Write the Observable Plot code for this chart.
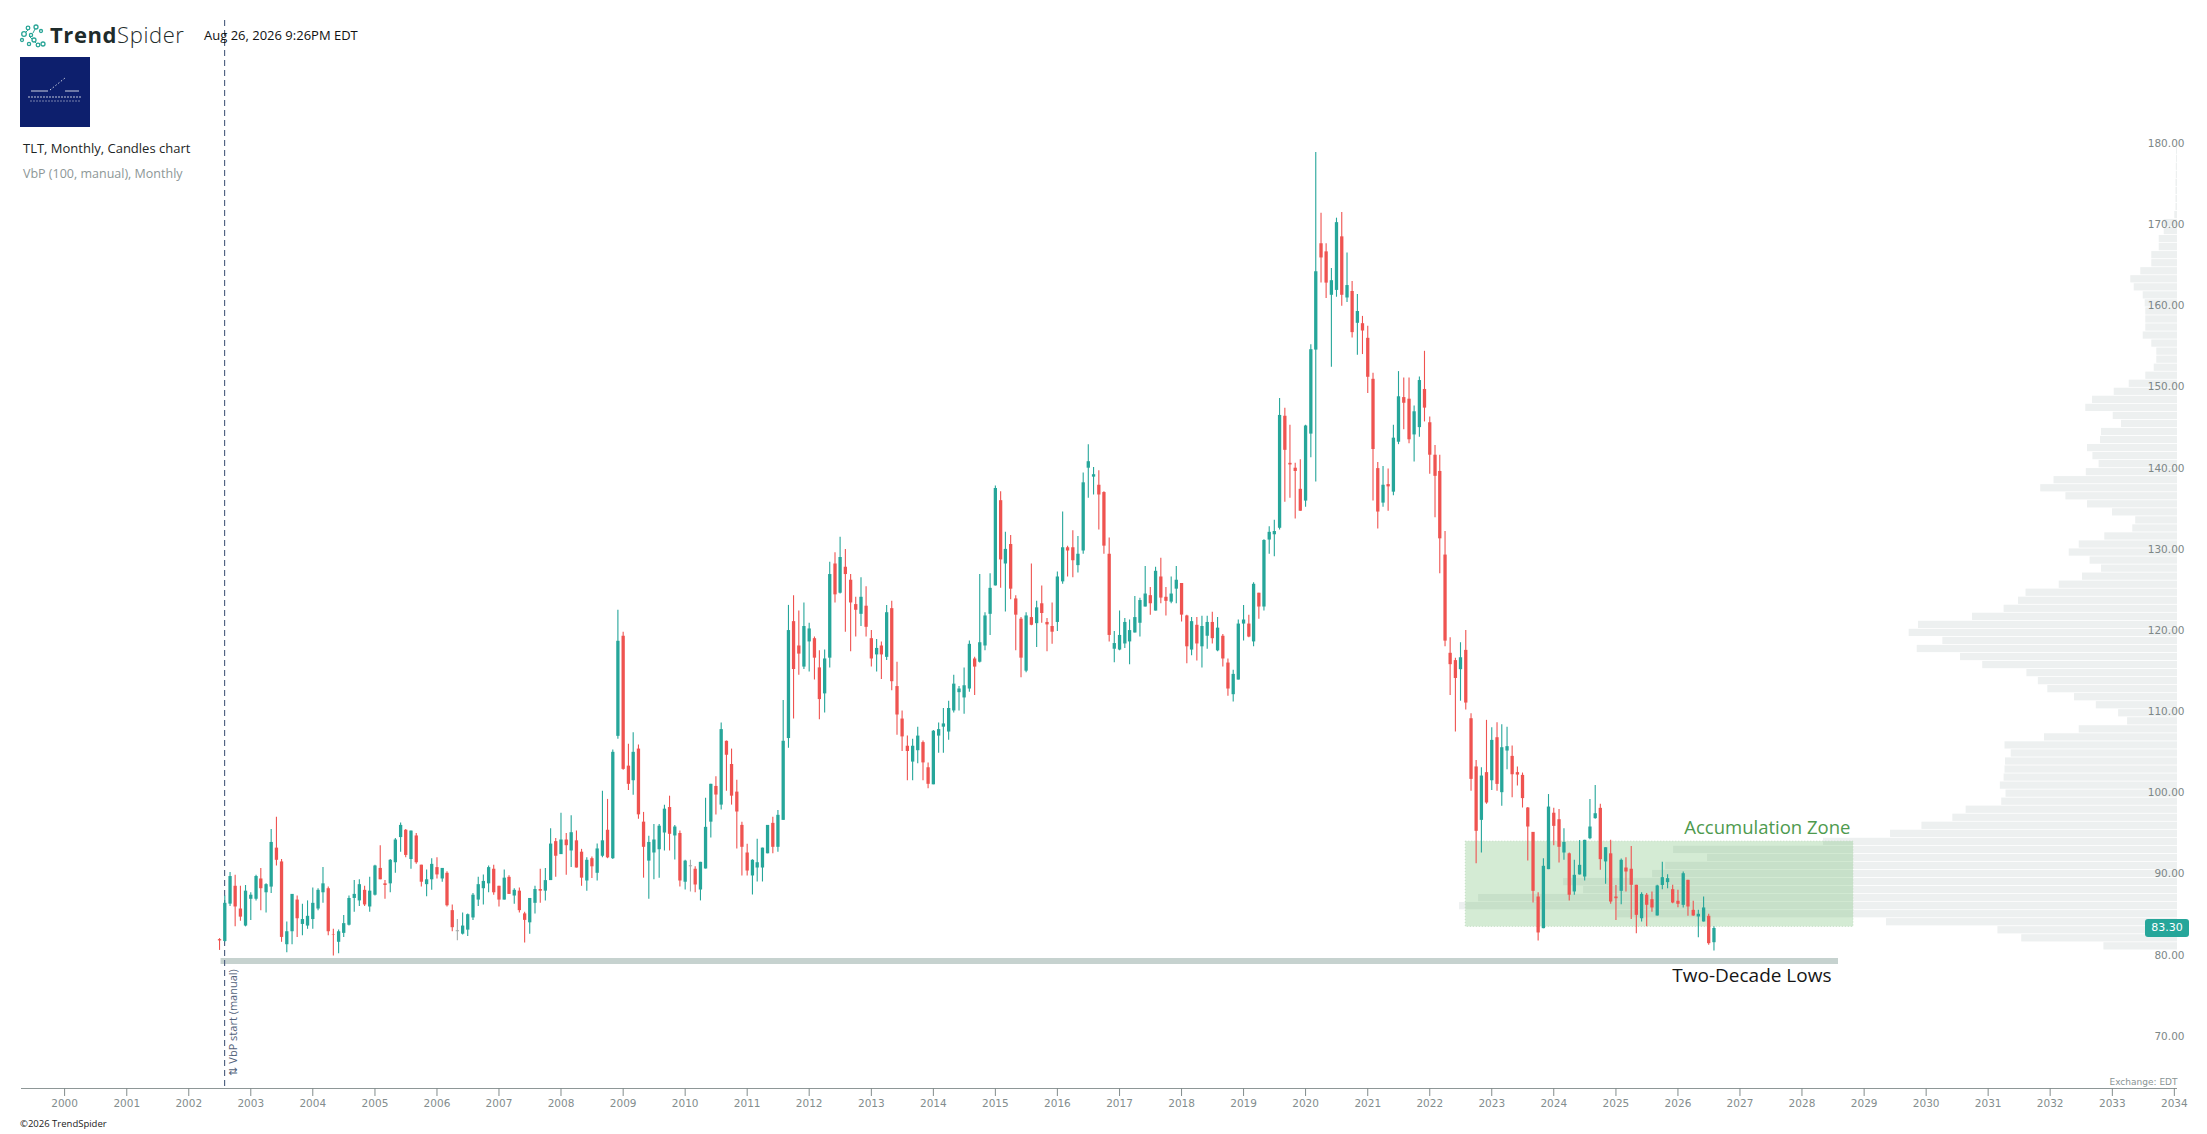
<!DOCTYPE html>
<html>
<head>
<meta charset="utf-8">
<script src="https://cdn.jsdelivr.net/npm/d3@7"></script>
<script src="https://cdn.jsdelivr.net/npm/@observablehq/plot@0.6"></script>
<style>
html, body { margin: 0; padding: 0; background: #ffffff; }
#wrap { position: relative; width: 2207px; height: 1134px; overflow: hidden; background: #ffffff; }
#wrap > svg.plot { position: absolute; left: 0; top: 0; }
#overlay { position: absolute; left: 0; top: 0; pointer-events: none; }
#price { position: absolute; background: #26a69a; color: #ffffff; border-radius: 3px;
  font-family: "DejaVu Sans", sans-serif; font-size: 11px; line-height: 18px; height: 18px;
  width: 44px; text-align: center; }
</style>
</head>
<body>
<div id="wrap"></div>
<script>
// ---------------- DATA ----------------
const firstMonth = { year: 2002, month: 7 };   // TLT monthly candles start July 2002
const opens = [
  81.93, 81.7, 86.3, 88.5, 85.7, 83.6,
  86.9, 86.9, 89.4, 87.7, 88.4, 93.2, 91.5, 81.3, 82.9, 86.8, 83.8, 83.6,
  84.4, 85.7, 87.7, 88.2, 82.5, 81.6, 82.7, 83.7, 87.0, 86.7, 88.0, 85.95,
  87.4, 90.7, 88.8, 88.8, 91.4, 94.5, 95.4, 91.8, 94.7, 91.1, 88.7, 89.3,
  90.8, 89.4, 90.1, 85.5, 82.9, 82.6, 83.1, 84.6, 86.8, 88.2, 88.8, 90.6,
  88.5, 86.8, 89.6, 87.3, 87.9, 85.1, 84.0, 86.4, 88.1, 87.9, 89.2, 94.0,
  92.4, 94.2, 92.85, 94.1, 92.7, 89.15, 91.9, 90.1, 92.2, 95.4, 91.9, 106.97,
  119.3, 103.3, 101.5, 105.4, 96.4, 91.6, 92.6, 93.0, 95.06, 98.2, 94.7, 95.0,
  89.0, 90.9, 90.6, 88.04, 90.63, 96.4, 100.8, 98.5, 106.36, 103.5, 100.1, 96.0,
  92.6, 89.77, 90.75, 90.75, 92.5, 96.25, 93.3, 96.62, 106.7, 121.1, 118.1, 115.5,
  118.6, 119.0, 115.4, 112.2, 116.6, 128.2, 124.6, 127.8, 126.2, 123.2, 122.0, 123.0,
  119.0, 117.0, 118.1, 116.7, 122.7, 113.1, 109.1, 105.75, 103.8, 105.2, 106.2, 103.1,
  101.0, 107.0, 108.1, 107.5, 110.1, 112.35, 111.7, 112.8, 116.5, 116.1, 118.1, 122.0,
  125.5, 136.0, 128.2, 130.6, 123.9, 121.4, 115.0, 121.6, 120.85, 123.3, 121.0, 120.5,
  121.0, 126.0, 130.2, 130.2, 128.0, 129.8, 140.0, 138.9, 137.9, 137.0, 129.4, 117.7,
  117.6, 118.35, 118.6, 119.7, 120.9, 122.9, 124.3, 122.4, 126.6, 124.1, 123.5, 125.1,
  125.8, 121.8, 117.6, 120.65, 118.0, 119.3, 121.0, 117.5, 119.3, 116.0, 112.1, 113.9,
  120.8, 120.8, 118.6, 124.6, 122.9, 131.15, 131.8, 132.6, 146.4, 140.6, 140.0, 137.4,
  135.95, 144.2, 154.55, 167.65, 166.65, 161.3, 161.9, 168.5, 160.97, 161.77, 157.85, 157.8,
  156.0, 150.95, 139.95, 135.7, 137.98, 137.05, 143.2, 148.7, 148.5, 144.1, 145.0, 149.7,
  145.6, 141.6, 139.6, 129.3, 117.2, 116.3, 115.18, 117.56, 109.14, 103.2, 96.62, 102.5,
  101.5, 106.8, 100.03, 105.16, 104.5, 102.5, 102.16, 98.14, 95.14, 87.18, 83.28, 90.55,
  97.5, 96.7, 92.6, 92.5, 87.8, 89.9, 89.64, 94.36, 96.83, 98.1, 91.5, 92.5,
  87.18, 87.88, 90.75, 90.6, 88.62, 84.5, 87.4, 86.85, 84.84, 88.6, 88.95, 88.08,
  86.65, 86.15, 89.23, 85.54, 84.72, 84.1, 84.8, 81.55
];
const highs = [
  82.05, 87.3, 90.2, 89.85, 88.5, 88.6,
  87.7, 89.85, 90.7, 88.8, 95.5, 97.0, 91.8, 84.1, 87.5, 87.3, 86.3, 86.7,
  88.3, 88.2, 90.8, 88.4, 83.2, 83.1, 84.9, 87.3, 89.2, 89.3, 88.5, 89.6,
  91.1, 93.5, 89.2, 91.8, 94.4, 96.3, 95.5, 95.3, 95.0, 91.1, 90.5, 91.9,
  92.0, 90.7, 90.3, 86.2, 84.4, 85.2, 85.1, 87.6, 89.6, 89.9, 91.0, 91.1,
  88.5, 90.5, 89.8, 88.2, 88.3, 85.3, 87.0, 88.5, 90.6, 90.7, 95.6, 94.4,
  97.5, 95.0, 97.2, 95.3, 93.05, 92.0, 92.1, 93.7, 100.2, 99.2, 105.3, 122.5,
  119.8, 106.0, 107.4, 105.9, 97.6, 94.65, 96.1, 96.1, 98.47, 99.6, 96.0, 95.3,
  91.7, 91.7, 90.9, 91.45, 99.33, 101.06, 102.0, 108.6, 106.4, 105.4, 101.56, 96.4,
  93.67, 91.78, 94.28, 93.2, 96.0, 97.0, 97.85, 111.4, 123.1, 124.3, 122.4, 123.4,
  120.9, 119.2, 117.5, 117.6, 128.4, 129.6, 131.5, 130.0, 126.9, 124.1, 126.5, 125.4,
  120.0, 118.9, 118.6, 123.1, 123.6, 116.1, 110.1, 107.0, 106.6, 108.1, 106.4, 103.7,
  107.7, 108.6, 110.4, 111.3, 114.5, 113.1, 115.4, 118.7, 116.7, 126.9, 122.2, 127.0,
  137.8, 137.1, 132.1, 131.7, 124.3, 121.6, 122.2, 128.2, 123.6, 125.5, 121.5, 123.4,
  127.2, 134.6, 130.4, 132.3, 131.6, 139.4, 142.9, 140.1, 139.7, 137.1, 131.4, 119.9,
  122.4, 121.5, 121.3, 124.2, 123.97, 127.9, 125.3, 127.8, 128.9, 125.3, 126.6, 127.9,
  125.8, 121.9, 121.6, 121.6, 121.75, 121.75, 122.25, 121.6, 119.5, 116.5, 115.1, 121.3,
  123.1, 121.9, 125.9, 124.6, 131.2, 132.8, 133.6, 148.6, 147.4, 145.3, 140.6, 141.05,
  145.3, 155.2, 178.9, 171.4, 167.65, 164.6, 170.8, 171.5, 166.5, 163.0, 161.4, 158.7,
  157.5, 151.7, 140.7, 140.2, 139.9, 145.3, 151.9, 151.1, 151.1, 147.65, 151.25, 154.4,
  146.3, 142.8, 141.6, 132.2, 119.1, 116.6, 118.5, 120.0, 109.76, 104.0, 103.1, 108.94,
  108.03, 108.65, 108.4, 108.1, 105.77, 103.2, 102.45, 98.2, 95.14, 87.7, 91.9, 99.8,
  98.1, 97.97, 95.6, 92.6, 91.7, 94.15, 94.16, 99.2, 100.93, 98.59, 93.25, 94.16,
  88.6, 91.86, 92.02, 93.4, 88.62, 87.7, 87.6, 87.8, 88.62, 91.45, 89.93, 88.62,
  88.0, 90.26, 89.23, 86.65, 85.54, 87.18, 85.05, 83.5
];
const lows = [
  80.6, 81.6, 86.0, 83.5, 84.2, 83.5,
  84.3, 86.7, 85.5, 85.2, 87.6, 91.0, 81.6, 80.3, 81.3, 82.2, 82.4, 83.2,
  83.2, 85.5, 86.4, 82.4, 79.9, 80.2, 82.2, 83.6, 85.3, 86.0, 86.0, 85.3,
  87.3, 89.3, 86.9, 87.7, 90.1, 92.7, 92.0, 90.6, 91.2, 88.4, 87.2, 88.0,
  89.4, 89.0, 85.95, 82.9, 81.8, 82.5, 82.3, 84.3, 86.0, 86.2, 87.7, 87.4,
  85.95, 86.8, 87.5, 86.3, 85.2, 81.5, 82.6, 85.1, 86.4, 86.7, 89.2, 89.6,
  92.4, 89.85, 90.8, 90.75, 88.5, 87.9, 89.45, 89.15, 92.0, 91.9, 91.8, 106.6,
  102.8, 100.3, 99.7, 96.75, 89.5, 86.9, 89.3, 89.5, 92.85, 92.85, 91.74, 88.4,
  88.04, 87.8, 87.7, 86.7, 90.63, 94.45, 97.28, 97.9, 100.2, 98.5, 93.1, 89.77,
  89.77, 87.43, 89.03, 89.03, 92.5, 92.5, 92.7, 96.62, 105.5, 109.1, 114.5, 115.2,
  114.9, 113.9, 109.0, 109.85, 115.4, 123.4, 124.5, 119.8, 117.4, 119.2, 120.5, 119.2,
  115.5, 114.9, 113.96, 116.3, 112.6, 107.1, 105.1, 101.5, 101.5, 103.6, 101.5, 100.5,
  101.0, 104.9, 104.9, 106.5, 109.85, 110.1, 109.7, 112.4, 112.0, 116.0, 117.5, 119.4,
  125.5, 125.2, 122.3, 123.8, 117.5, 114.2, 114.8, 120.6, 117.9, 120.9, 117.4, 118.3,
  119.9, 125.7, 126.6, 126.5, 127.1, 129.4, 136.3, 136.7, 132.4, 129.4, 118.6, 116.05,
  117.5, 117.8, 115.8, 119.7, 119.2, 122.9, 121.9, 122.4, 123.3, 121.8, 123.3, 123.3,
  121.05, 115.9, 116.9, 116.25, 115.4, 117.7, 118.35, 117.4, 115.5, 111.9, 111.2, 113.9,
  118.7, 119.1, 118.0, 121.4, 122.4, 129.4, 129.1, 132.4, 135.8, 136.3, 133.75, 134.7,
  135.2, 141.3, 138.3, 162.8, 160.9, 152.45, 161.06, 159.96, 160.4, 156.05, 153.9, 154.0,
  149.2, 135.95, 132.5, 135.2, 134.7, 136.6, 142.9, 144.75, 143.0, 140.75, 143.8, 145.7,
  139.25, 133.9, 127.0, 118.0, 112.0, 107.5, 111.3, 110.2, 100.2, 91.28, 92.6, 98.6,
  100.3, 100.2, 98.35, 102.86, 99.4, 100.85, 98.14, 91.6, 86.44, 81.76, 83.28, 90.55,
  93.5, 91.37, 91.7, 86.7, 87.4, 89.9, 89.15, 94.24, 96.75, 90.46, 88.74, 86.28,
  84.3, 86.24, 87.8, 84.4, 82.66, 84.1, 83.5, 85.3, 84.84, 88.08, 88.2, 86.36,
  85.87, 85.83, 84.8, 84.8, 82.17, 84.1, 81.23, 80.53
];
const closes = [
  81.77, 86.4, 89.7, 85.95, 84.7, 87.9,
  87.4, 89.7, 88.2, 88.7, 93.9, 91.7, 82.2, 82.9, 87.5, 84.5, 84.4, 84.8,
  86.4, 88.0, 88.8, 82.9, 82.45, 82.9, 83.9, 87.0, 87.5, 88.7, 86.2, 87.9,
  91.0, 89.3, 88.6, 91.7, 94.2, 96.0, 92.3, 95.3, 91.4, 89.0, 89.3, 91.2,
  89.9, 90.7, 86.1, 83.4, 82.9, 83.6, 85.0, 87.4, 88.7, 89.1, 90.8, 87.7,
  86.8, 89.5, 87.5, 88.0, 85.5, 84.3, 87.0, 88.1, 87.9, 89.2, 93.7, 92.2,
  94.2, 93.5, 95.1, 90.75, 89.5, 91.7, 90.9, 93.1, 94.1, 92.0, 105.0, 118.68,
  102.9, 101.06, 105.0, 97.3, 93.3, 93.9, 94.2, 95.9, 98.0, 94.9, 95.8, 89.15,
  91.6, 90.9, 88.66, 91.45, 95.76, 101.06, 99.74, 107.8, 104.64, 99.6, 97.65, 93.3,
  90.38, 91.7, 91.4, 93.2, 96.0, 93.3, 97.24, 106.36, 120.0, 115.2, 117.1, 120.5,
  120.2, 116.6, 111.5, 116.5, 126.9, 124.4, 129.0, 126.9, 123.4, 122.5, 124.1, 120.4,
  116.5, 117.8, 117.0, 122.2, 113.7, 109.6, 106.9, 105.1, 105.75, 107.0, 103.7, 101.06,
  107.6, 107.8, 108.5, 110.4, 113.4, 112.8, 113.2, 118.3, 115.5, 118.5, 121.8, 125.2,
  137.5, 128.7, 130.0, 125.1, 121.9, 116.6, 121.8, 120.65, 122.8, 122.1, 120.7, 119.8,
  126.6, 130.2, 129.8, 128.6, 129.4, 138.2, 140.8, 139.2, 136.7, 130.4, 119.4, 118.4,
  119.4, 121.0, 120.0, 121.6, 123.7, 124.5, 123.3, 127.3, 124.0, 123.6, 124.5, 126.2,
  121.9, 118.0, 121.1, 118.35, 120.5, 121.0, 119.0, 120.3, 116.5, 112.8, 114.6, 120.8,
  121.3, 119.2, 125.7, 122.9, 131.1, 132.1, 132.2, 146.5, 142.2, 140.4, 139.6, 134.7,
  145.2, 154.6, 164.2, 165.9, 162.8, 163.1, 170.25, 161.3, 162.5, 156.7, 159.3, 156.9,
  151.2, 142.3, 134.6, 137.9, 137.7, 143.7, 148.8, 148.0, 143.5, 146.95, 150.8, 147.4,
  141.6, 139.0, 131.3, 118.7, 115.8, 114.1, 116.65, 111.07, 101.67, 95.27, 102.08, 98.76,
  106.47, 101.05, 105.57, 105.7, 102.24, 102.2, 99.3, 95.8, 87.88, 82.75, 90.96, 98.26,
  95.88, 93.3, 93.9, 87.4, 89.85, 91.08, 94.16, 95.8, 97.44, 91.78, 93.25, 86.56,
  86.97, 91.7, 90.26, 88.62, 84.92, 87.5, 86.16, 85.83, 88.54, 89.56, 89.44, 86.44,
  86.28, 90.05, 85.95, 84.84, 85.05, 85.83, 81.43, 83.3
];

// Volume-by-price profile (100 rows, relative volume per price row, lowest row first)
const vbpFirstRowCenter = 81.1;
const vbpRowStep = 0.99;
const vbpVolume = [
  73.6, 155.8, 179.6, 291, 560, 718, 699, 594, 614, 525,
  512, 470, 504, 354, 287, 255.6, 224.7, 211.4, 175.8, 171.5,
  177.2, 173.4, 172.5, 172, 166.3, 172.5, 133, 98.3, 49.9, 58.9,
  81.2, 103, 129.7, 139.2, 150.6, 194.8, 217, 260.3, 234.7, 268.4,
  259, 205, 173.4, 159, 151.5, 118.3, 95, 76, 87.4, 108.3,
  98.3, 72.7, 44.7, 41.8, 65, 90, 111.6, 136.8, 123.5, 91.2,
  78.4, 84.6, 90, 77, 76, 56, 64.3, 91.7, 85, 63.3,
  48.3, 31.7, 23.3, 20.7, 20.7, 25.7, 34.3, 31.7, 31.7, 31.7,
  32.3, 34.3, 43.3, 46.7, 36.7, 25.7, 25.7, 18.3, 18.3, 13.3,
  13.3, 2.7, 1.5, 1.5, 1.5, 1.5, 1.2, 1.2, 1.0, 1.0
];

// Annotations
const zone = { start: "2022-08-01", end: "2028-10-30", low: 83.5, high: 94.0, label: "Accumulation Zone" };
const lowsLine = { start: "2002-07-10", end: "2028-08-03", level: 79.3, label: "Two-Decade Lows" };
const vbpStartDate = "2002-07-31";
const vbpStartLabel = "⇅ VbP start (manual)";
const lastPrice = 83.30;

// Axis ticks
const yTicks = [70, 80, 90, 100, 110, 120, 130, 140, 150, 160, 170, 180];
const yearTicks = [2000, 2001, 2002, 2003, 2004, 2005, 2006, 2007, 2008, 2009, 2010, 2011,
  2012, 2013, 2014, 2015, 2016, 2017, 2018, 2019, 2020, 2021, 2022, 2023, 2024, 2025, 2026,
  2027, 2028, 2029, 2030, 2031, 2032, 2033, 2034];

// ---------------- BUILD ----------------
function decYear(v) {
  const y = Math.floor(v), s = Date.UTC(y, 0, 1), e = Date.UTC(y + 1, 0, 1);
  return new Date(s + (v - y) * (e - s));
}
const iso = s => new Date(s + "T00:00:00Z");

const candles = opens.map((o, i) => ({
  date: new Date(Date.UTC(firstMonth.year, firstMonth.month - 1 + i, 1)),
  open: o, high: highs[i], low: lows[i], close: closes[i]
}));
const UP = "#26a69a", DOWN = "#ef5350", FLAT = "#a3abab";
const candleColor = d => d.close > d.open ? UP : d.close < d.open ? DOWN : FLAT;

const xLeft = decYear(1999.305), xRight = decYear(2034.051);
const yDomain = [63.59, 195.15];

// Profile anchored at the right edge of the chart; longest row spans ~11.57 years
const profileSpanMs = 11.57 * 365.25 * 864e5;
const maxVol = d3.max(vbpVolume);
const vbp = vbpVolume.map((v, k) => ({
  lo: vbpFirstRowCenter + k * vbpRowStep - vbpRowStep / 2,
  hi: vbpFirstRowCenter + k * vbpRowStep + vbpRowStep / 2,
  x1: new Date(+xRight - v / maxVol * profileSpanMs),
  x2: xRight
}));

const FONT = "Open Sans";
const chart = Plot.plot({
  width: 2207,
  height: 1134,
  marginLeft: 21,
  marginRight: 30,
  marginTop: 20,
  marginBottom: 46,
  x: { type: "utc", domain: [xLeft, xRight] },
  y: { domain: yDomain },
  style: { fontFamily: "DejaVu Sans", fontSize: "10.5px", background: "transparent", overflow: "visible" },
  marks: [
    Plot.rect(vbp, { x1: "x1", x2: "x2", y1: "lo", y2: "hi", fill: "#edf0f0", insetTop: 0.4, insetBottom: 0.4 }),
    Plot.rect([zone], { x1: d => iso(d.start), x2: d => iso(d.end), y1: "low", y2: "high",
      fill: "rgb(112,188,112)", fillOpacity: 0.3, stroke: "#c2dcc2", strokeDasharray: "1,2", strokeWidth: 1 }),
    Plot.ruleY([lowsLine], { y: "level", x1: d => iso(d.start), x2: d => iso(d.end), stroke: "#c6d2cf", strokeWidth: 6 }),
    Plot.ruleX([vbpStartDate], { x: d => iso(d), stroke: "#475a7c", strokeDasharray: "6,4", strokeWidth: 1.1 }),
    Plot.ruleX(candles, { x: "date", y1: "low", y2: "high", stroke: candleColor, strokeWidth: 1.1 }),
    Plot.ruleX(candles, { x: "date", y1: "open", y2: d => d.close === d.open ? d.close + 0.13 : d.close,
      stroke: candleColor, strokeWidth: 3.3 }),
    Plot.ruleY([yDomain[0]], { stroke: "#8e9797", strokeWidth: 1 }),
    Plot.axisX(yearTicks.map(y => new Date(Date.UTC(y, 0, 1))), {
      anchor: "bottom", tickSize: 8, tickPadding: 3, tickFormat: d3.utcFormat("%Y"),
      color: "#838d8d", fontSize: 10.5 }),
    Plot.axisY(yTicks, { anchor: "right", tickSize: 0, tickPadding: 7, textAnchor: "end",
      tickFormat: d => d.toFixed(2), color: "#7d8787", fontSize: 10.5 }),
    Plot.text([zone], { x: d => iso(d.end), y: "high", text: "label", textAnchor: "end", lineAnchor: "bottom",
      dx: -3, dy: -8, fontFamily: FONT, fontSize: 18.5, fill: "#4e9a4e" }),
    Plot.text([lowsLine], { x: d => iso(d.end), y: "level", text: "label", textAnchor: "end", lineAnchor: "top",
      dx: -7, dy: 8, fontFamily: FONT, fontSize: 19, fill: "#161616" }),
    Plot.text([vbpStartLabel], { x: () => iso(vbpStartDate), y: () => yDomain[0], text: d => d, rotate: -90,
      textAnchor: "start", dx: 9, dy: -13, fontFamily: FONT, fontSize: 11, fill: "#52627a" }),
    Plot.text(["Exchange: EDT"], { x: () => xRight, y: () => yDomain[0], text: d => d, textAnchor: "end",
      lineAnchor: "bottom", dy: -4, fontSize: 9, fill: "#8a9494" })
  ]
});
const wrap = document.getElementById("wrap");
wrap.appendChild(chart);

// Last price label positioned with the chart's own scales
const yS = chart.scale("y"), xS = chart.scale("x");
const price = document.createElement("div");
price.id = "price";
price.textContent = lastPrice.toFixed(2);
price.style.left = (xS.apply(xRight) - 32) + "px";
price.style.top = (yS.apply(lastPrice) - 9) + "px";
wrap.appendChild(price);

// Header / footer overlay (text kept as real text)
const NS = "http://www.w3.org/2000/svg";
const ov = document.createElementNS(NS, "svg");
ov.setAttribute("id", "overlay");
ov.setAttribute("width", 2207);
ov.setAttribute("height", 1134);
ov.innerHTML = `
  <g fill="none" stroke="#2aa597" stroke-width="1.3">
    <circle cx="24" cy="34" r="2.3"/><circle cx="28" cy="28" r="1.8"/><circle cx="31" cy="35" r="1.6"/>
    <circle cx="36" cy="27" r="2"/><circle cx="34" cy="40" r="2"/><circle cx="38" cy="45" r="1.8"/>
    <circle cx="43" cy="44" r="2"/><circle cx="29" cy="44" r="1.6"/><circle cx="22" cy="40" r="1.5"/>
    <circle cx="41" cy="31" r="1.5"/>
    <path d="M26 32 L28 30 M29 36 L32 39 M35 42 L37 44 M33 33 L35 29" stroke-width="1"/>
  </g>
  <text x="50" y="43" font-family="Open Sans" font-size="22" fill="#1e2b2b" letter-spacing="0.6"><tspan font-weight="700">Trend</tspan><tspan font-weight="300">Spider</tspan></text>
  <text x="204" y="40" font-family="Open Sans" font-size="13" fill="#111111">Aug 26, 2026 9:26PM EDT</text>
  <rect x="20" y="57" width="70" height="70" fill="#0d1f6d"/>
  <g stroke="#ffffff" stroke-width="0.8">
    <line x1="31" y1="91" x2="48" y2="91"/><line x1="65" y1="91" x2="79" y2="91"/>
    <line x1="50" y1="90" x2="65" y2="78" stroke-dasharray="1.5,2"/>
  </g>
  <g stroke="#ffffff" stroke-width="1" opacity="0.75" stroke-dasharray="2,1">
    <line x1="28" y1="97" x2="82" y2="97"/><line x1="30" y1="101" x2="80" y2="101" opacity="0.6"/>
  </g>
  <text x="23" y="153" font-family="Open Sans" font-size="13" fill="#1d2525">TLT, Monthly, Candles chart</text>
  <text x="23" y="178" font-family="Open Sans" font-size="12.5" fill="#8d9797">VbP (100, manual), Monthly</text>
  <text x="20" y="1127" font-family="Open Sans" font-size="9.5" fill="#222222">©2026 TrendSpider</text>
`;
wrap.appendChild(ov);
</script>
</body>
</html>
